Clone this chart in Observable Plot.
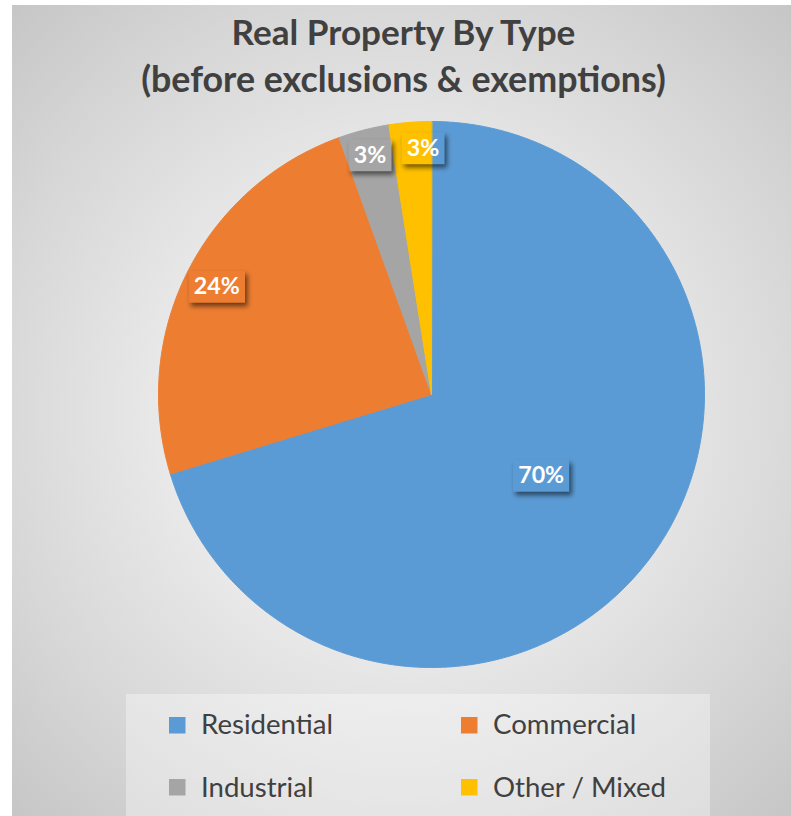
<!DOCTYPE html>
<html><head><meta charset="utf-8">
<script src="https://cdn.jsdelivr.net/npm/d3@7"></script>
<script src="https://cdn.jsdelivr.net/npm/@observablehq/plot@0.6"></script>
<style>
html,body{margin:0;padding:0;background:#fff;}
#card{position:absolute;left:12px;top:5px;width:779px;height:811px;overflow:hidden;
 background: radial-gradient(circle farthest-corner at 50% 50%, #f4f4f4 0%, #eaeaea 40%, #d6d6d6 75%, #c6c6c6 100%);}
#plot{position:absolute;left:0;top:105px;}
#overlay{position:absolute;left:0;top:0;}
</style></head><body>
<div id="card"><div id="plot"></div><svg id="overlay" width="779" height="811"></svg></div>
<script>
// ---- data ----
const categories = ["Residential", "Commercial", "Industrial", "Other / Mixed"];
const shares = [70.3, 24.2, 3.0, 2.5];
const colors = ["#5B9BD5", "#ED7D31", "#A5A5A5", "#FFC000"];
const titleLines = ["Real Property By Type", "(before exclusions & exemptions)"];

// ---- geometry / style constants ----
const R = 273;
const FONT = "Lato, 'Open Sans', sans-serif";
const TEXT_COLOR = "#404040";

const rows = categories.map((name, i) => ({name, share: shares[i]}));
const arcs = d3.pie().sort(null).value(d => d.share)(rows);

// slice outlines (center + arc) in chart units
const piePts = arcs.flatMap(a => {
  const pts = [{name: a.data.name, x: 0, y: 0}];
  const n = Math.max(2, Math.ceil((a.endAngle - a.startAngle) / (Math.PI / 360)));
  for (let k = 0; k <= n; k++) {
    const t = a.startAngle + (a.endAngle - a.startAngle) * k / n;
    pts.push({name: a.data.name, x: R * Math.sin(t), y: R * Math.cos(t)});
  }
  return pts;
});

// label font size from canvas measure
const ctx = document.createElement("canvas").getContext("2d");
ctx.font = "bold 100px " + FONT;
const labelFont = 100 * 46 / ctx.measureText("70%").width;

// data labels
const labels = [];
arcs.forEach(a => {
  const mid = (a.startAngle + a.endAngle) / 2;
  const s = a.data.share;
  const frac = s > 50 ? 0.5 : s > 10 ? 0.88 : 0.905;
  const text = Math.round(s) + "%";
  const w = 16 + 13.5 * text.length, h = 32;
  let lx = frac * R * Math.sin(mid);
  const ly = frac * R * Math.cos(mid);
  const prev = labels[labels.length - 1];
  if (prev && Math.abs(prev.ly - ly) < h && (lx - w / 2) < prev.lx + prev.w / 2 && lx > prev.lx) {
    lx = prev.lx + prev.w / 2 + 10 + w / 2;
  }
  labels.push({name: a.data.name, text, lx, ly, w, h});
});

const pieLine = (desc) => Plot.line(piePts, {
  x: "x", y: "y", z: "name", fill: "name", stroke: "name", strokeWidth: 1,
  curve: "linear-closed", ariaDescription: desc
});
const boxOpts = {
  x1: d => d.lx - d.w / 2, x2: d => d.lx + d.w / 2,
  y1: d => d.ly - d.h / 2, y2: d => d.ly + d.h / 2
};

const plot = Plot.plot({
  width: 779, height: 580, margin: 0,
  x: {domain: [-419, 360], axis: null},
  y: {domain: [-296, 284], axis: null},
  color: {domain: categories, range: colors},
  style: {background: "transparent", overflow: "visible"},
  marks: [
    pieLine("pie"),
    Plot.rect(labels, {...boxOpts, fill: "#000", fillOpacity: 0.55, dx: 3, dy: 4, ariaDescription: "label-shadow"}),
    pieLine("pie-top"),
    Plot.rect(labels, {...boxOpts, fill: "none", ariaDescription: "label-box"}),
    Plot.text(labels, {x: "lx", y: "ly", text: "text", fill: "white", fontWeight: "bold",
      fontSize: labelFont, fontFamily: FONT})
  ]
});
document.getElementById("plot").appendChild(plot);

// shadow blur + label boxes showing the slices under them
const s = d3.select(plot);
const defs = s.insert("defs", ":first-child");
defs.append("filter").attr("id", "shadowBlur")
  .attr("x", "-50%").attr("y", "-50%").attr("width", "200%").attr("height", "200%")
  .append("feGaussianBlur").attr("stdDeviation", 2.5);
s.select('g[aria-description="label-shadow"]').attr("filter", "url(#shadowBlur)");
const cp = defs.append("clipPath").attr("id", "boxClip");
s.selectAll('g[aria-description="label-box"] rect').each(function () {
  cp.node().appendChild(this.cloneNode());
});
s.select('g[aria-description="pie-top"]').attr("clip-path", "url(#boxClip)");

// ---- title + legend overlay ----
const ov = d3.select("#overlay");
function fitText(sel, target) {
  const len = sel.node().getComputedTextLength();
  const fs = parseFloat(sel.attr("font-size"));
  sel.attr("font-size", fs * target / len);
  return fs * target / len;
}
const titleY = [40, 87], titleW = [344, 525];
titleLines.forEach((t, i) => {
  const el = ov.append("text").attr("x", 391.5).attr("y", titleY[i])
    .attr("text-anchor", "middle").attr("font-family", FONT).attr("font-weight", "bold")
    .attr("font-size", 32).attr("fill", TEXT_COLOR).text(t);
  fitText(el, titleW[i]);
});

ov.append("rect").attr("x", 114).attr("y", 689).attr("width", 584).attr("height", 130)
  .attr("fill", "#ffffff").attr("fill-opacity", 0.35);
const legX = [157, 449], legY = [712, 774], legBase = [729, 792];
let legendFont = null;
categories.forEach((c, i) => {
  const col = i % 2, row = Math.floor(i / 2);
  ov.append("rect").attr("x", legX[col]).attr("y", legY[row]).attr("width", 16.5).attr("height", 16.5)
    .attr("fill", colors[i]);
  const el = ov.append("text").attr("x", legX[col] + 32).attr("y", legBase[row])
    .attr("font-family", FONT).attr("font-size", legendFont || 28).attr("fill", TEXT_COLOR).text(c);
  if (legendFont === null) legendFont = fitText(el, 132);
});
</script>
</body></html>
